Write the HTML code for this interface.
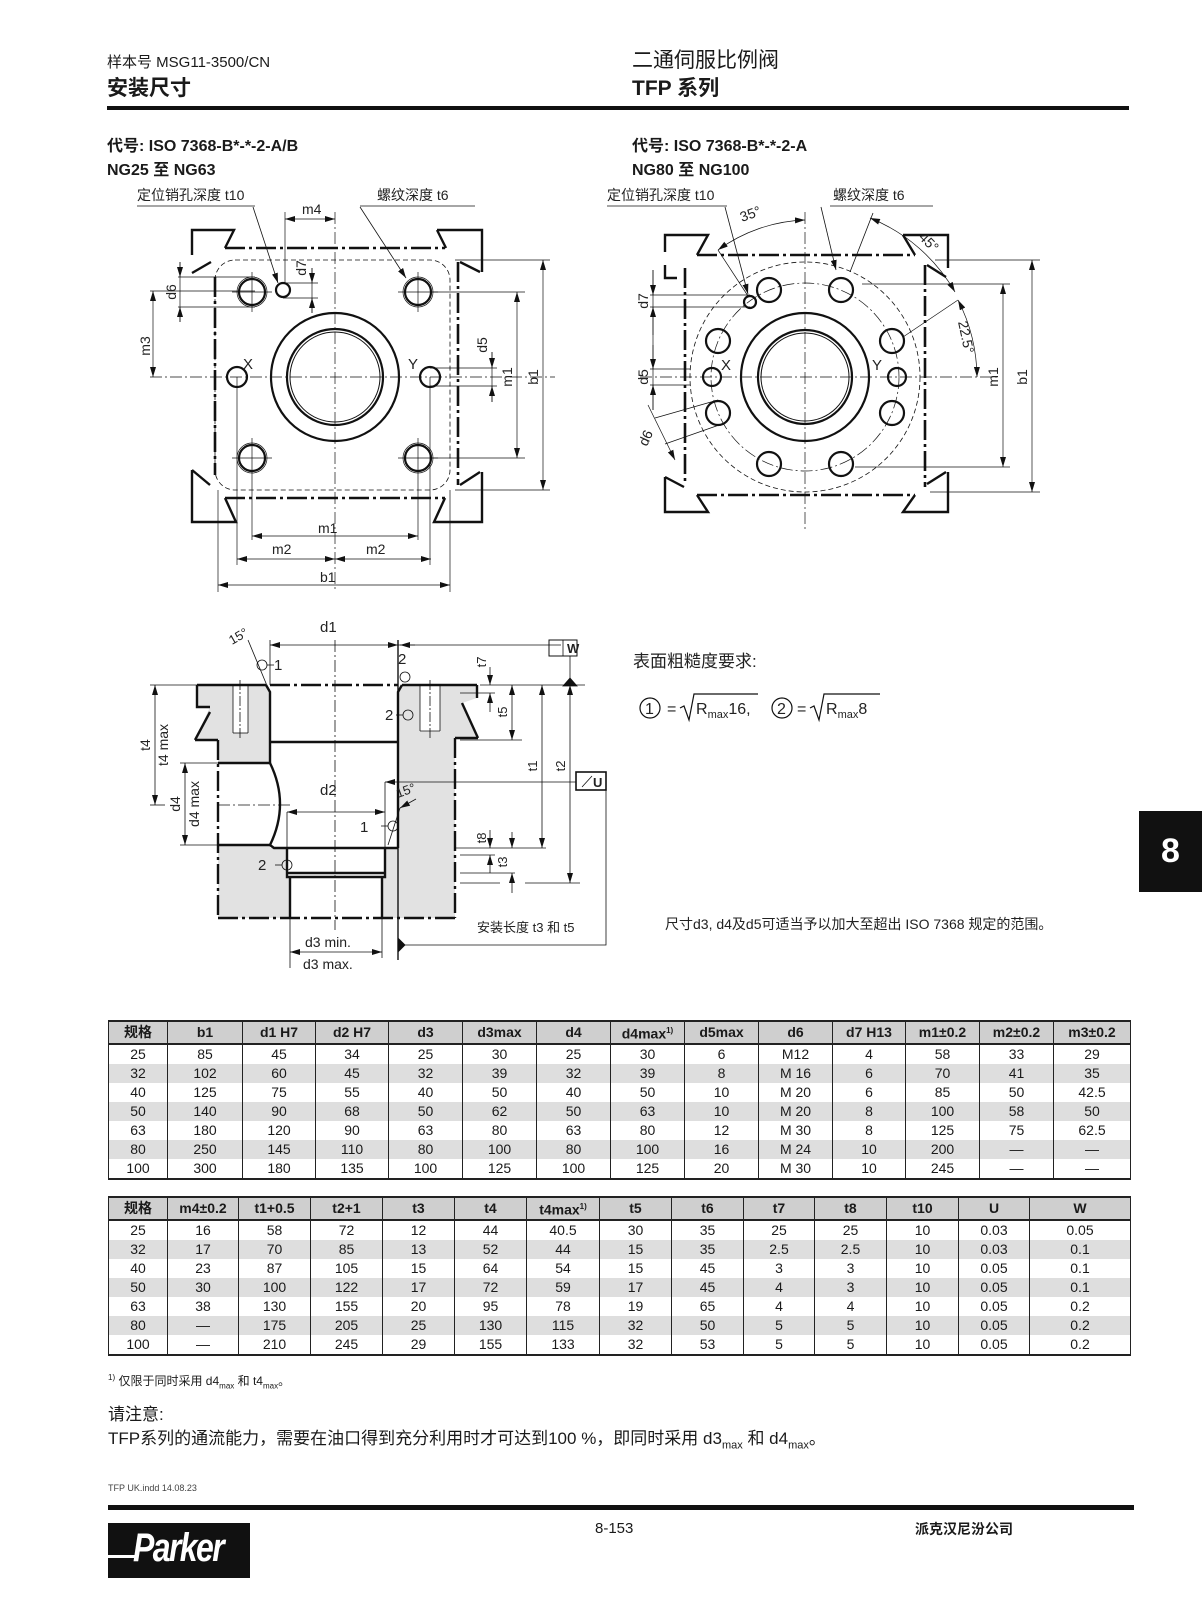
<!DOCTYPE html>
<html><head><meta charset="utf-8">
<style>
html,body{margin:0;padding:0;background:#fff;}
body{width:1202px;height:1600px;position:relative;overflow:hidden;font-family:"Liberation Sans","Noto Sans CJK SC",sans-serif;color:#1a1a1a;}
.abs{position:absolute;white-space:nowrap;}
table{position:absolute;border-collapse:collapse;table-layout:fixed;font-family:"Liberation Sans","Noto Sans CJK SC",sans-serif;font-size:14px;}
td{border-left:1.5px solid #222;border-right:1.5px solid #222;text-align:center;padding:0;height:19px;line-height:19px;overflow:hidden;white-space:nowrap;}
tr.h td{background:#cfcfcf;font-weight:bold;border-top:2px solid #222;border-bottom:2px solid #222;height:18px;line-height:18px;}
tr.g td{background:#dedede;}
tr.last td{border-bottom:2px solid #222;}
sup{font-size:8px;}
</style></head><body>

<div class="abs" style="left:107px;top:51px;font-size:15px;">样本号 MSG11-3500/CN</div>
<div class="abs" style="left:107px;top:72px;font-size:21px;font-weight:bold;">安装尺寸</div>
<div class="abs" style="left:632px;top:44px;font-size:21px;">二通伺服比例阀</div>
<div class="abs" style="left:632px;top:72px;font-size:21px;font-weight:bold;">TFP 系列</div>
<div class="abs" style="left:107px;top:106px;width:1022px;height:4px;background:#111;"></div>

<div class="abs" style="left:107px;top:132px;font-size:16px;font-weight:bold;">代号: ISO 7368-B*-*-2-A/B</div>
<div class="abs" style="left:107px;top:156px;font-size:16px;font-weight:bold;">NG25 至 NG63</div>
<div class="abs" style="left:632px;top:132px;font-size:16px;font-weight:bold;">代号: ISO 7368-B*-*-2-A</div>
<div class="abs" style="left:632px;top:156px;font-size:16px;font-weight:bold;">NG80 至 NG100</div>

<div class="abs" style="left:1139px;top:811px;width:63px;height:81px;background:#111;color:#fff;font-size:34px;font-weight:bold;text-align:center;line-height:81px;">8</div>

<svg class="abs" style="left:0;top:0" width="1202" height="1000" viewBox="0 0 1202 1000" font-family="Liberation Sans, Noto Sans CJK SC, sans-serif" fill="none" stroke="#111">
<defs>
<marker id="a" viewBox="0 0 10 6" refX="10" refY="3" markerWidth="10" markerHeight="6" markerUnits="userSpaceOnUse" orient="auto-start-reverse"><path d="M0,0 L10,3 L0,6 z" fill="#111" stroke="none"/></marker>
</defs>
<g font-size="14" fill="#222" stroke="none">
<text x="137" y="200">定位销孔深度 t10</text>
<text x="377" y="200">螺纹深度 t6</text>
<text x="607" y="200">定位销孔深度 t10</text>
<text x="833" y="200">螺纹深度 t6</text>
</g>

<!-- ===== Drawing 1 ===== -->
<g stroke-width="0.8">
<line x1="137" y1="206" x2="255" y2="206"/><line x1="360" y1="206" x2="475" y2="206"/>
<line x1="253" y1="207" x2="278" y2="283" marker-end="url(#a)"/>
<line x1="360" y1="207" x2="406" y2="278" marker-end="url(#a)"/>
</g>
<g stroke-width="2.6" stroke-dasharray="20 4 3 4">
<line x1="225" y1="248" x2="445" y2="248"/>
<line x1="225" y1="498" x2="445" y2="498"/>
<line x1="215" y1="277" x2="215" y2="475"/>
<line x1="458" y1="262" x2="458" y2="485"/>
</g>
<g stroke-width="2.4">
<polyline points="192,255 192,230 234,230 225,248"/>
<line x1="192" y1="273" x2="211" y2="262"/>
<polyline points="437,230 482,230 482,272"/>
<line x1="437" y1="230" x2="446" y2="248"/>
<line x1="460" y1="262" x2="480" y2="272"/>
<line x1="192" y1="470" x2="210" y2="485"/>
<polyline points="192,470 192,522 236,522 225,498"/>
<line x1="480" y1="472" x2="460" y2="485"/>
<polyline points="482,472 482,522 434,522 445,498"/>
</g>
<rect x="215" y="260" width="235" height="230" rx="20" stroke-width="0.8" stroke-dasharray="5 3"/>
<g stroke-width="0.7" stroke-dasharray="12 3 2 3">
<line x1="335" y1="212" x2="335" y2="590"/>
<line x1="150" y1="377" x2="555" y2="377"/>
</g>
<g stroke-width="2.2">
<circle cx="335" cy="377" r="64"/>
<circle cx="335" cy="377" r="48"/>
<circle cx="335" cy="377" r="45" stroke-width="1"/>
<circle cx="252" cy="292" r="13"/><circle cx="418" cy="292" r="13"/>
<circle cx="252" cy="458" r="13"/><circle cx="418" cy="458" r="13"/>
<circle cx="283" cy="290" r="7"/>
<circle cx="237" cy="377" r="10"/><circle cx="430" cy="377" r="10"/>
</g>
<g stroke-width="0.7">
<circle cx="252" cy="292" r="15"/><circle cx="418" cy="292" r="15"/>
<circle cx="252" cy="458" r="15"/><circle cx="418" cy="458" r="15"/>
<line x1="252" y1="272" x2="252" y2="312"/><line x1="232" y1="292" x2="272" y2="292"/>
<line x1="418" y1="272" x2="418" y2="312"/><line x1="398" y1="292" x2="438" y2="292"/>
<line x1="252" y1="438" x2="252" y2="540"/><line x1="232" y1="458" x2="272" y2="458"/>
<line x1="418" y1="438" x2="418" y2="540"/><line x1="398" y1="458" x2="438" y2="458"/>
<line x1="237" y1="377" x2="237" y2="565"/><line x1="430" y1="377" x2="430" y2="565"/>
<line x1="218" y1="490" x2="218" y2="592"/><line x1="450" y1="490" x2="450" y2="592"/>
<line x1="455" y1="260" x2="550" y2="260"/><line x1="455" y1="490" x2="550" y2="490"/>
<line x1="430" y1="292" x2="525" y2="292"/><line x1="430" y1="458" x2="525" y2="458"/>
<line x1="430" y1="368" x2="497" y2="368"/><line x1="430" y1="386" x2="497" y2="386"/>
<line x1="150" y1="291" x2="255" y2="291"/>
<line x1="178" y1="277" x2="255" y2="277"/><line x1="178" y1="307" x2="255" y2="307"/>
<line x1="283" y1="283" x2="318" y2="283"/><line x1="283" y1="298" x2="318" y2="298"/>
<line x1="285" y1="212" x2="285" y2="283"/>
<line x1="543" y1="260" x2="543" y2="490" marker-start="url(#a)" marker-end="url(#a)"/>
<line x1="517" y1="292" x2="517" y2="458" marker-start="url(#a)" marker-end="url(#a)"/>
<line x1="492" y1="352" x2="492" y2="368" marker-end="url(#a)"/><line x1="492" y1="402" x2="492" y2="386" marker-end="url(#a)"/>
<line x1="492" y1="352" x2="492" y2="402"/>
<line x1="153" y1="291" x2="153" y2="377" marker-start="url(#a)" marker-end="url(#a)"/>
<line x1="180" y1="262" x2="180" y2="277" marker-end="url(#a)"/><line x1="180" y1="322" x2="180" y2="307" marker-end="url(#a)"/>
<line x1="180" y1="262" x2="180" y2="322"/>
<line x1="312" y1="268" x2="312" y2="283" marker-end="url(#a)"/><line x1="312" y1="313" x2="312" y2="298" marker-end="url(#a)"/>
<line x1="312" y1="268" x2="312" y2="313"/>
<line x1="285" y1="219" x2="335" y2="219" marker-start="url(#a)" marker-end="url(#a)"/>
<line x1="252" y1="536" x2="418" y2="536" marker-start="url(#a)" marker-end="url(#a)"/>
<line x1="237" y1="559" x2="335" y2="559" marker-start="url(#a)" marker-end="url(#a)"/>
<line x1="335" y1="559" x2="431" y2="559" marker-start="url(#a)" marker-end="url(#a)"/>
<line x1="218" y1="585" x2="450" y2="585" marker-start="url(#a)" marker-end="url(#a)"/>
</g>
<g font-size="15" fill="#222" stroke="none">
<text x="302" y="214" font-size="14">m4</text>
<text x="243" y="369">X</text><text x="408" y="369">Y</text>
<text x="318" y="533" font-size="14">m1</text>
<text x="272" y="554" font-size="14">m2</text><text x="366" y="554" font-size="14">m2</text>
<text x="320" y="582" font-size="14">b1</text>
<text transform="translate(150,346) rotate(-90)" font-size="14" text-anchor="middle">m3</text>
<text transform="translate(176,292) rotate(-90)" font-size="14" text-anchor="middle">d6</text>
<text transform="translate(306,268) rotate(-90)" font-size="14" text-anchor="middle">d7</text>
<text transform="translate(487,345) rotate(-90)" font-size="14" text-anchor="middle">d5</text>
<text transform="translate(512,377) rotate(-90)" font-size="14" text-anchor="middle">m1</text>
<text transform="translate(538,377) rotate(-90)" font-size="14" text-anchor="middle">b1</text>
</g>

<!-- ===== Drawing 2 ===== -->
<g stroke-width="0.8">
<line x1="607" y1="206" x2="727" y2="206"/><line x1="830" y1="206" x2="933" y2="206"/>
<line x1="725" y1="207" x2="748" y2="294" marker-end="url(#a)"/>
<line x1="821" y1="207" x2="836" y2="270" marker-end="url(#a)"/>
<line x1="873" y1="213" x2="850" y2="272"/>
</g>
<g stroke-width="2.6" stroke-dasharray="20 4 3 4">
<line x1="697" y1="255" x2="915" y2="255"/>
<line x1="697" y1="495" x2="915" y2="495"/>
<line x1="685" y1="268" x2="685" y2="485"/>
<line x1="925" y1="265" x2="925" y2="487"/>
</g>
<g stroke-width="2.4">
<polyline points="665,252 665,235 708,235 697,255"/>
<polyline points="665,265 665,278 677,278"/>
<polyline points="903,235 948,235 948,268"/>
<line x1="903" y1="235" x2="915" y2="255"/>
<line x1="927" y1="265" x2="946" y2="277"/>
<line x1="665" y1="477" x2="684" y2="487"/>
<polyline points="665,477 665,512 708,512 697,495"/>
<line x1="946" y1="472" x2="927" y2="484"/>
<polyline points="948,472 948,512 903,512 915,495"/>
</g>
<g stroke-width="0.7" stroke-dasharray="12 3 2 3">
<line x1="805" y1="212" x2="805" y2="530"/>
<line x1="640" y1="377" x2="1000" y2="377"/>
<circle cx="805" cy="377" r="94"/>
</g>
<circle cx="805" cy="377" r="115" stroke-width="0.8" stroke-dasharray="5 3"/>
<g stroke-width="2.2">
<circle cx="805" cy="377" r="64"/>
<circle cx="805" cy="377" r="47"/>
<circle cx="805" cy="377" r="44" stroke-width="1"/>
<circle cx="841" cy="290" r="12"/><circle cx="769" cy="290" r="12"/>
<circle cx="892" cy="341" r="12"/><circle cx="718" cy="341" r="12"/>
<circle cx="892" cy="413" r="12"/><circle cx="718" cy="413" r="12"/>
<circle cx="841" cy="464" r="12"/><circle cx="769" cy="464" r="12"/>
<circle cx="750" cy="302" r="6"/>
<circle cx="712" cy="377" r="9"/><circle cx="897" cy="377" r="9"/>
</g>
<g stroke-width="0.7">
<path d="M718,250 A157,157 0 0 1 805,220" marker-start="url(#a)" marker-end="url(#a)"/>
<path d="M870,218 A172,172 0 0 1 955,292" marker-start="url(#a)" marker-end="url(#a)"/>
<path d="M958,300 A172,172 0 0 1 977,377" marker-start="url(#a)" marker-end="url(#a)"/>
<line x1="718" y1="250" x2="748" y2="296"/>
<line x1="958" y1="300" x2="903" y2="337"/>
<line x1="935" y1="260" x2="1040" y2="260"/><line x1="930" y1="492" x2="1040" y2="492"/>
<line x1="862" y1="284" x2="1010" y2="284"/><line x1="855" y1="467" x2="1010" y2="467"/>
<line x1="1032" y1="260" x2="1032" y2="492" marker-start="url(#a)" marker-end="url(#a)"/>
<line x1="1003" y1="284" x2="1003" y2="467" marker-start="url(#a)" marker-end="url(#a)"/>
<line x1="650" y1="295" x2="750" y2="295"/><line x1="650" y1="307" x2="750" y2="307"/>
<line x1="653" y1="270" x2="653" y2="295" marker-end="url(#a)"/><line x1="653" y1="335" x2="653" y2="307" marker-end="url(#a)"/>
<line x1="650" y1="369" x2="690" y2="369"/><line x1="650" y1="385" x2="690" y2="385"/>
<line x1="653" y1="345" x2="653" y2="369" marker-end="url(#a)"/><line x1="653" y1="410" x2="653" y2="385" marker-end="url(#a)"/>
<line x1="653" y1="270" x2="653" y2="410"/>
<line x1="655" y1="418" x2="718" y2="400"/><line x1="665" y1="444" x2="722" y2="424"/>
<line x1="648" y1="405" x2="675" y2="460" marker-end="url(#a)"/>
</g>
<g font-size="15" fill="#222" stroke="none">
<text x="721" y="370">X</text><text x="872" y="370">Y</text>
<text transform="translate(742,222) rotate(-20)" font-size="14">35°</text>
<text transform="translate(918,238) rotate(45)" font-size="14">45°</text>
<text transform="translate(958,322) rotate(78)" font-size="14">22.5°</text>
<text transform="translate(648,301) rotate(-90)" font-size="14" text-anchor="middle">d7</text>
<text transform="translate(648,377) rotate(-90)" font-size="14" text-anchor="middle">d5</text>
<text transform="translate(650,440) rotate(-65)" font-size="14" text-anchor="middle">d6</text>
<text transform="translate(998,377) rotate(-90)" font-size="14" text-anchor="middle">m1</text>
<text transform="translate(1027,377) rotate(-90)" font-size="14" text-anchor="middle">b1</text>
</g>

<!-- ===== Section ===== -->
<path d="M197,685 L477,685 L477,698 L462,703 L478,738 L455,738 L455,918 L218,918 L218,740 L195,740 L210,707 L197,707 Z" fill="#e2e2e2" stroke="none"/>
<g fill="#fff" stroke="none">
<path d="M266,685 L402,685 L398,692 L398,848 L270,848 L270,692 Z"/>
<rect x="218" y="763" width="60" height="82"/>
<rect x="287" y="848" width="98" height="29"/>
<rect x="290" y="877" width="92" height="41"/>
<rect x="233" y="685" width="15" height="48"/>
<rect x="420" y="685" width="20" height="46"/>
</g>
<g stroke-width="2.4">
<line x1="197" y1="685" x2="266" y2="685"/><line x1="402" y1="685" x2="477" y2="685"/>
<polyline points="197,685 197,707 210,707"/>
<line x1="210" y1="712" x2="195" y2="740"/>
<polyline points="195,740 218,740"/>
<polyline points="477,685 477,698"/>
<line x1="462" y1="703" x2="478" y2="738"/>
<line x1="478" y1="738" x2="455" y2="738"/>
<polyline points="266,685 270,692 270,763"/>
<polyline points="402,685 398,692 398,848"/>
<line x1="270" y1="742" x2="398" y2="742"/>
<line x1="218" y1="763" x2="270" y2="763"/>
<line x1="218" y1="845" x2="270" y2="845"/>
<path d="M270,763 Q290,804 270,845"/>
<polyline points="270,845 274,848 398,848"/>
<polyline points="287,848 287,877 385,877 385,848"/>
<line x1="287" y1="873" x2="385" y2="873"/>
<line x1="290" y1="877" x2="290" y2="918"/><line x1="382" y1="877" x2="382" y2="918"/>
<line x1="270" y1="685" x2="398" y2="685" stroke-dasharray="20 4 3 4"/>
<line x1="218" y1="740" x2="218" y2="918" stroke-dasharray="20 4 3 4"/>
<line x1="455" y1="738" x2="455" y2="918" stroke-dasharray="20 4 3 4"/>
<line x1="218" y1="918" x2="455" y2="918" stroke-dasharray="20 4 3 4"/>
</g>
<g stroke-width="0.8">
<line x1="233" y1="685" x2="233" y2="733"/><line x1="248" y1="685" x2="248" y2="733"/><line x1="233" y1="733" x2="248" y2="733"/>
<line x1="420" y1="685" x2="420" y2="731"/><line x1="440" y1="685" x2="440" y2="731"/><line x1="420" y1="731" x2="440" y2="731"/>
<line x1="240" y1="680" x2="240" y2="740" stroke-dasharray="10 2 2 2"/><line x1="430" y1="680" x2="430" y2="740" stroke-dasharray="10 2 2 2"/>
<line x1="335" y1="640" x2="335" y2="930" stroke-dasharray="12 3 2 3"/>
<line x1="218" y1="805" x2="290" y2="805" stroke-dasharray="12 3 2 3"/>
<line x1="270" y1="640" x2="270" y2="685"/>
<line x1="398" y1="640" x2="398" y2="960" stroke-width="1.4"/>
<line x1="270" y1="645" x2="398" y2="645" marker-start="url(#a)" marker-end="url(#a)"/>
<line x1="398" y1="645" x2="561" y2="645"/>
<line x1="400" y1="645" x2="415" y2="645" marker-start="url(#a)"/>
<rect x="549" y="640" width="28" height="16" stroke-width="1"/>
<line x1="563" y1="640" x2="563" y2="656"/>
<line x1="570" y1="656" x2="570" y2="680"/>
<path d="M563,686 L570,678 L577,686 Z" fill="#111"/>
<line x1="480" y1="685" x2="585" y2="685"/>
<line x1="460" y1="693" x2="495" y2="693"/>
<line x1="490" y1="667" x2="490" y2="685" marker-end="url(#a)"/><line x1="490" y1="712" x2="490" y2="693" marker-end="url(#a)"/>
<line x1="512" y1="685" x2="512" y2="740" marker-start="url(#a)" marker-end="url(#a)"/>
<line x1="460" y1="740" x2="522" y2="740"/>
<line x1="542" y1="685" x2="542" y2="848" marker-start="url(#a)" marker-end="url(#a)"/>
<line x1="455" y1="848" x2="546" y2="848"/>
<line x1="570" y1="685" x2="570" y2="883" marker-start="url(#a)" marker-end="url(#a)"/>
<line x1="525" y1="883" x2="580" y2="883"/><line x1="460" y1="883" x2="500" y2="883"/>
<line x1="460" y1="855" x2="495" y2="855"/>
<line x1="490" y1="830" x2="490" y2="848" marker-end="url(#a)"/><line x1="490" y1="873" x2="490" y2="855" marker-end="url(#a)"/>
<line x1="512" y1="832" x2="512" y2="848" marker-end="url(#a)"/><line x1="512" y1="893" x2="512" y2="873" marker-end="url(#a)"/>
<line x1="460" y1="873" x2="515" y2="873"/>
<rect x="576" y="772" width="30" height="18" stroke-width="1.6"/>
<line x1="582" y1="787" x2="592" y2="776"/>
<line x1="576" y1="782" x2="385" y2="782" marker-end="url(#a)"/>
<line x1="385" y1="782" x2="385" y2="848"/>
<polyline points="606,782 606,945 404,945"/>
<path d="M398,938 L405,945 L398,952 Z" fill="#111"/>
<line x1="155" y1="685" x2="155" y2="805" marker-start="url(#a)" marker-end="url(#a)"/>
<line x1="150" y1="685" x2="197" y2="685"/><line x1="150" y1="805" x2="165" y2="805"/>
<line x1="185" y1="763" x2="185" y2="845" marker-start="url(#a)" marker-end="url(#a)"/>
<line x1="180" y1="763" x2="218" y2="763"/><line x1="180" y1="845" x2="218" y2="845"/>
<line x1="287" y1="812" x2="385" y2="812" marker-start="url(#a)" marker-end="url(#a)"/>
<line x1="287" y1="812" x2="287" y2="848"/>
<line x1="290" y1="918" x2="290" y2="968"/><line x1="382" y1="918" x2="382" y2="958"/>
<line x1="290" y1="952" x2="382" y2="952" marker-start="url(#a)" marker-end="url(#a)"/>
<circle cx="262" cy="665" r="5"/><line x1="267" y1="665" x2="274" y2="665"/>
<line x1="248" y1="640" x2="268" y2="688"/>
<circle cx="405" cy="677" r="5"/>
<circle cx="408" cy="715" r="5"/><line x1="396" y1="715" x2="403" y2="715"/>
<circle cx="393" cy="826" r="5"/><line x1="381" y1="826" x2="388" y2="826"/>
<line x1="388" y1="845" x2="400" y2="808"/>
<line x1="400" y1="808" x2="416" y2="799" marker-start="url(#a)"/>
<circle cx="287" cy="865" r="5"/><line x1="275" y1="865" x2="282" y2="865"/>
</g>
<g font-size="15" fill="#222" stroke="none">
<text x="320" y="632">d1</text>
<text transform="translate(232,645) rotate(-30)" font-size="13">15°</text>
<text x="274" y="670">1</text>
<text x="398" y="664">2</text>
<text x="385" y="720">2</text>
<text x="360" y="832">1</text>
<text transform="translate(398,798) rotate(-20)" font-size="13">15°</text>
<text x="258" y="870">2</text>
<text x="320" y="795">d2</text>
<text x="567" y="653" font-size="13" font-weight="bold">W</text>
<text x="593" y="787" font-size="13" font-weight="bold">U</text>
<text transform="translate(486,662) rotate(-90)" font-size="13" text-anchor="middle">t7</text>
<text transform="translate(507,712) rotate(-90)" font-size="13" text-anchor="middle">t5</text>
<text transform="translate(537,766) rotate(-90)" font-size="13" text-anchor="middle">t1</text>
<text transform="translate(565,766) rotate(-90)" font-size="13" text-anchor="middle">t2</text>
<text transform="translate(486,838) rotate(-90)" font-size="13" text-anchor="middle">t8</text>
<text transform="translate(507,862) rotate(-90)" font-size="13" text-anchor="middle">t3</text>
<text transform="translate(150,745) rotate(-90)" font-size="14" text-anchor="middle">t4</text>
<text transform="translate(168,745) rotate(-90)" font-size="14" text-anchor="middle">t4 max</text>
<text transform="translate(180,804) rotate(-90)" font-size="14" text-anchor="middle">d4</text>
<text transform="translate(199,804) rotate(-90)" font-size="14" text-anchor="middle">d4 max</text>
<text x="305" y="947" font-size="14">d3 min.</text>
<text x="303" y="969" font-size="14">d3 max.</text>
<text x="477" y="932" font-size="13">安装长度 t3 和 t5</text>
<text x="633" y="667" font-size="17">表面粗糙度要求:</text>
<text x="665" y="929" font-size="14">尺寸d3, d4及d5可适当予以加大至超出 ISO 7368 规定的范围。</text>
</g>
<g stroke-width="1.2">
<circle cx="650" cy="708" r="10"/><circle cx="782" cy="708" r="10"/>
<polyline points="680,708 684,706 689,720 694,694 758,694"/>
<polyline points="810,708 814,706 819,720 824,694 880,694"/>
</g>
<g fill="#222" stroke="none" font-size="16">
<text x="645" y="714">1</text><text x="777" y="714">2</text>
<text x="667" y="714">=</text><text x="797" y="714">=</text>
<text x="696" y="714">R<tspan font-size="11" dy="4">max</tspan><tspan dy="-4">16,</tspan></text>
<text x="826" y="714">R<tspan font-size="11" dy="4">max</tspan><tspan dy="-4">8</tspan></text>
</g>
</svg>

<table style="left:108px;top:1020px;width:1022px;">
<colgroup><col style="width:59px"><col style="width:75px"><col style="width:73px"><col style="width:73px"><col style="width:74px"><col style="width:74px"><col style="width:74px"><col style="width:74px"><col style="width:74px"><col style="width:74px"><col style="width:73px"><col style="width:74px"><col style="width:74px"><col style="width:77px"></colgroup>
<tr class="h"><td>规格</td><td>b1</td><td>d1 H7</td><td>d2 H7</td><td>d3</td><td>d3max</td><td>d4</td><td>d4max<sup>1)</sup></td><td>d5max</td><td>d6</td><td>d7 H13</td><td>m1±0.2</td><td>m2±0.2</td><td>m3±0.2</td></tr>
<tr><td>25</td><td>85</td><td>45</td><td>34</td><td>25</td><td>30</td><td>25</td><td>30</td><td>6</td><td>M12</td><td>4</td><td>58</td><td>33</td><td>29</td></tr>
<tr class="g"><td>32</td><td>102</td><td>60</td><td>45</td><td>32</td><td>39</td><td>32</td><td>39</td><td>8</td><td>M 16</td><td>6</td><td>70</td><td>41</td><td>35</td></tr>
<tr><td>40</td><td>125</td><td>75</td><td>55</td><td>40</td><td>50</td><td>40</td><td>50</td><td>10</td><td>M 20</td><td>6</td><td>85</td><td>50</td><td>42.5</td></tr>
<tr class="g"><td>50</td><td>140</td><td>90</td><td>68</td><td>50</td><td>62</td><td>50</td><td>63</td><td>10</td><td>M 20</td><td>8</td><td>100</td><td>58</td><td>50</td></tr>
<tr><td>63</td><td>180</td><td>120</td><td>90</td><td>63</td><td>80</td><td>63</td><td>80</td><td>12</td><td>M 30</td><td>8</td><td>125</td><td>75</td><td>62.5</td></tr>
<tr class="g"><td>80</td><td>250</td><td>145</td><td>110</td><td>80</td><td>100</td><td>80</td><td>100</td><td>16</td><td>M 24</td><td>10</td><td>200</td><td>—</td><td>—</td></tr>
<tr class="last"><td>100</td><td>300</td><td>180</td><td>135</td><td>100</td><td>125</td><td>100</td><td>125</td><td>20</td><td>M 30</td><td>10</td><td>245</td><td>—</td><td>—</td></tr>
</table>

<table style="left:108px;top:1196px;width:1022px;">
<colgroup><col style="width:59px"><col style="width:71px"><col style="width:72px"><col style="width:72px"><col style="width:72px"><col style="width:72px"><col style="width:73px"><col style="width:72px"><col style="width:72px"><col style="width:71px"><col style="width:72px"><col style="width:72px"><col style="width:71px"><col style="width:101px"></colgroup>
<tr class="h"><td>规格</td><td>m4±0.2</td><td>t1+0.5</td><td>t2+1</td><td>t3</td><td>t4</td><td>t4max<sup>1)</sup></td><td>t5</td><td>t6</td><td>t7</td><td>t8</td><td>t10</td><td>U</td><td>W</td></tr>
<tr><td>25</td><td>16</td><td>58</td><td>72</td><td>12</td><td>44</td><td>40.5</td><td>30</td><td>35</td><td>25</td><td>25</td><td>10</td><td>0.03</td><td>0.05</td></tr>
<tr class="g"><td>32</td><td>17</td><td>70</td><td>85</td><td>13</td><td>52</td><td>44</td><td>15</td><td>35</td><td>2.5</td><td>2.5</td><td>10</td><td>0.03</td><td>0.1</td></tr>
<tr><td>40</td><td>23</td><td>87</td><td>105</td><td>15</td><td>64</td><td>54</td><td>15</td><td>45</td><td>3</td><td>3</td><td>10</td><td>0.05</td><td>0.1</td></tr>
<tr class="g"><td>50</td><td>30</td><td>100</td><td>122</td><td>17</td><td>72</td><td>59</td><td>17</td><td>45</td><td>4</td><td>3</td><td>10</td><td>0.05</td><td>0.1</td></tr>
<tr><td>63</td><td>38</td><td>130</td><td>155</td><td>20</td><td>95</td><td>78</td><td>19</td><td>65</td><td>4</td><td>4</td><td>10</td><td>0.05</td><td>0.2</td></tr>
<tr class="g"><td>80</td><td>—</td><td>175</td><td>205</td><td>25</td><td>130</td><td>115</td><td>32</td><td>50</td><td>5</td><td>5</td><td>10</td><td>0.05</td><td>0.2</td></tr>
<tr class="last"><td>100</td><td>—</td><td>210</td><td>245</td><td>29</td><td>155</td><td>133</td><td>32</td><td>53</td><td>5</td><td>5</td><td>10</td><td>0.05</td><td>0.2</td></tr>
</table>

<div class="abs" style="left:108px;top:1372px;font-size:12px;"><sup>1)</sup> 仅限于同时采用 d4<sub style="font-size:8px">max</sub> 和 t4<sub style="font-size:8px">max</sub>。</div>
<div class="abs" style="left:108px;top:1400px;font-size:17px;">请注意:</div>
<div class="abs" style="left:108px;top:1424px;font-size:17px;">TFP系列的通流能力，需要在油口得到充分利用时才可达到100 %，即同时采用 d3<sub style="font-size:11px">max</sub> 和 d4<sub style="font-size:11px">max</sub>。</div>
<div class="abs" style="left:108px;top:1483px;font-size:9px;color:#444;">TFP UK.indd  14.08.23</div>
<div class="abs" style="left:108px;top:1505px;width:1026px;height:5px;background:#111;"></div>
<div class="abs" style="left:595px;top:1520px;font-size:15px;">8-153</div>
<div class="abs" style="left:915px;top:1519px;font-size:14px;font-weight:bold;">派克汉尼汾公司</div>
<div class="abs" style="left:108px;top:1523px;width:142px;height:55px;background:#111;"></div>
<div class="abs" style="left:108px;top:1555px;width:30px;height:3px;background:#fff;"></div>
<div class="abs" style="left:133px;top:1526px;font-size:40px;font-weight:bold;font-style:italic;color:#fff;letter-spacing:-2px;transform:scaleX(0.8);transform-origin:left;">Parker</div>
</body></html>
